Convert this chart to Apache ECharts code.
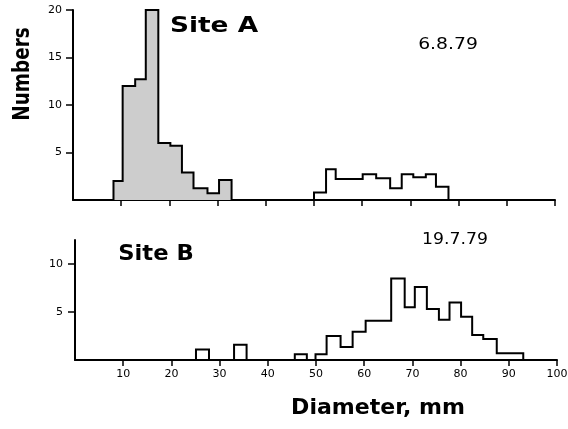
<!DOCTYPE html>
<html><head><meta charset="utf-8">
<script src="https://cdn.jsdelivr.net/npm/echarts@6/dist/echarts.min.js"></script>
<style>html,body{margin:0;padding:0;background:#fff}#c{width:568px;height:429px}</style>
</head><body><div id="c"></div>
<script>
// ---- DATA (diameter bins in mm, numbers per bin) ----
// Site A, 6.8.79
const siteAShadedEdges  = [8.4, 10.3, 12.9, 15.1, 17.7, 20.2, 22.6, 25.0, 27.9, 30.3, 32.9];
const siteAShadedCounts = [2.0, 12.0, 12.7, 20, 6.0, 5.7, 2.9, 1.25, 0.7, 2.1];
const siteAOpenEdges    = [50.0, 52.5, 54.5, 57.3, 60.1, 62.9, 65.8, 68.2, 70.6, 73.2, 75.3, 77.9];
const siteAOpenCounts   = [0.8, 3.25, 2.2, 2.2, 2.7, 2.3, 1.25, 2.7, 2.4, 2.7, 1.4];
// Site B, 19.7.79
const siteBSmallEdges   = [[25.1, 27.8], [33.0, 35.6], [45.6, 48.1]];
const siteBSmallCounts  = [1.1, 1.6, 0.6];
const siteBMainEdges    = [49.9, 52.2, 55.1, 57.6, 60.3, 63.0, 65.6, 68.4, 70.5, 73.0, 75.5, 77.7, 80.1, 82.4, 84.7, 87.5, 90.2, 93.0];
const siteBMainCounts   = [0.6, 2.5, 1.35, 2.95, 4.1, 4.1, 8.5, 5.5, 7.6, 5.3, 4.2, 6.0, 4.5, 2.6, 2.2, 0.7, 0.7];
// Ticks
const xTicks  = [10, 20, 30, 40, 50, 60, 70, 80, 90, 100];
const yTicksA = [5, 10, 15, 20];
const yTicksB = [5, 10];

function stepData(edges, counts) {
  const d = [[edges[0], 0]];
  counts.forEach((c, i) => d.push([edges[i], c]));
  d.push([edges[edges.length - 1], 0]);
  return d;
}
function histSeries(edges, counts, g, fill) {
  const s = {
    type: 'line', step: 'end', symbol: 'none', silent: true,
    xAxisIndex: g, yAxisIndex: g,
    data: stepData(edges, counts),
    lineStyle: { color: '#000', width: 2, join: 'miter', cap: 'square' },
    z: 3
  };
  if (fill) s.areaStyle = { color: fill, opacity: 1 };
  return s;
}

const labelFont = { color: '#000', fontSize: 11, fontFamily: 'DejaVu Sans' };
function xAxis(g, showLabels) {
  return {
    type: 'value', gridIndex: g, min: 0, max: 100, interval: 10,
    axisLine: { show: true, lineStyle: { color: '#000', width: 2 } },
    axisTick: { show: true, length: 6, customValues: xTicks, lineStyle: { color: '#000', width: 1.5 } },
    axisLabel: showLabels ? Object.assign({ show: true, margin: 9, customValues: xTicks }, labelFont) : { show: false },
    splitLine: { show: false }
  };
}
function yAxis(g, max, ticks, margin) {
  return {
    type: 'value', gridIndex: g, min: 0, max: max, interval: 5,
    axisLine: { show: true, lineStyle: { color: '#000', width: 2 } },
    axisTick: { show: true, length: 7, customValues: ticks, lineStyle: { color: '#000', width: 1.5 } },
    axisLabel: Object.assign({ show: true, margin: margin, customValues: ticks }, labelFont),
    splitLine: { show: false }
  };
}

const series = [
  histSeries(siteAShadedEdges, siteAShadedCounts, 0, '#cdcdcd'),
  histSeries(siteAOpenEdges, siteAOpenCounts, 0, null),
  histSeries(siteBMainEdges, siteBMainCounts, 1, null)
];
siteBSmallEdges.forEach((e, i) => series.push(histSeries(e, [siteBSmallCounts[i]], 1, null)));

function txt(text, x, y, size, bold, sx, rot) {
  return { type: 'text', x: x, y: y, rotation: rot || 0, scaleX: sx || 1,
    style: { text: text, fill: '#000', fontSize: size, fontWeight: bold ? 'bold' : 'normal',
      fontFamily: 'DejaVu Sans', align: 'center', verticalAlign: 'middle' } };
}

const chart = echarts.init(document.getElementById('c'), null, { renderer: 'canvas' });
chart.setOption({
  animation: false,
  backgroundColor: '#fff',
  grid: [
    { left: 73, top: 10, width: 482, height: 190, outerBoundsMode: 'none', containLabel: false },
    { left: 75, top: 240, width: 482, height: 120, outerBoundsMode: 'none', containLabel: false }
  ],
  xAxis: [xAxis(0, false), xAxis(1, true)],
  yAxis: [yAxis(0, 20, yTicksA, 11), yAxis(1, 12.5, yTicksB, 12)],
  series: series,
  graphic: [
    txt('Numbers', 23, 74, 23, true, 0.8, Math.PI / 2),
    txt('Site A', 214, 26, 22, true, 1.2),
    txt('6.8.79', 448, 45, 15, false, 1.25),
    txt('Site B', 156, 254, 22, true, 1.03),
    txt('19.7.79', 455, 240, 15, false, 1.15),
    txt('Diameter, mm', 378, 409, 21, true, 1.05)
  ]
});
</script></body></html>
